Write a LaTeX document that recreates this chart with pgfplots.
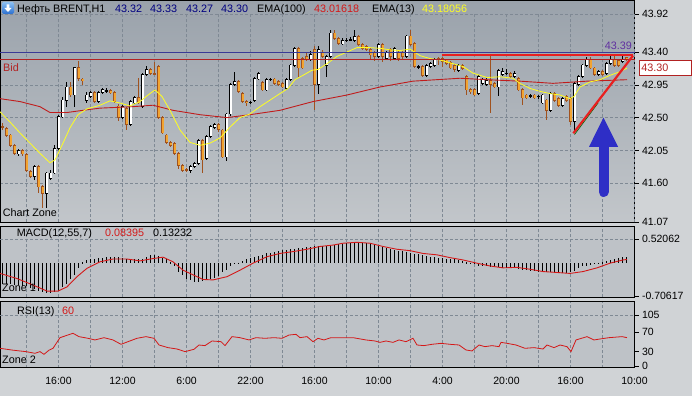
\documentclass[border=0pt]{standalone}
\usepackage{pgfplots}
\pgfplotsset{compat=1.18}
\usepackage{pgfplotstable}
\usepackage{fontspec}
\setmainfont{Liberation Sans}

\definecolor{outerbg}{HTML}{D0D3D6}
\definecolor{mtop}{HTML}{9AA2AB}
\definecolor{mbot}{HTML}{C2C6CA}
\definecolor{pbg}{HTML}{BEC2C7}
\definecolor{gridc}{HTML}{7F8994}
\definecolor{dnfill}{HTML}{F2A431}
\definecolor{dnline}{HTML}{A0521E}
\definecolor{ema13}{HTML}{FFFF20}
\definecolor{ema100}{HTML}{C01C1C}
\definecolor{blueline}{HTML}{3A3A96}
\definecolor{bidred}{HTML}{B22222}
\definecolor{trend}{HTML}{E82020}
\definecolor{arrowblue}{HTML}{2E2EC6}
\definecolor{hdrblue}{HTML}{000080}
\definecolor{lblpurple}{HTML}{6030A0}
\definecolor{valred}{HTML}{D41818}
\definecolor{icontop}{HTML}{8CC0F2}
\definecolor{iconbot}{HTML}{2A6FD0}

\newcommand\hdr{\fontsize{10.8}{13}\selectfont}

\pgfplotstableread{
i o h l c
4 42.00 42.07 41.98 42.05
8 41.69 41.85 41.64 41.83
11 41.46 41.76 41.26 41.74
12 41.66 41.78 41.64 41.74
13 41.74 42.13 41.72 42.08
14 42.08 42.53 42.06 42.51
15 42.51 42.78 42.49 42.74
16 42.74 42.99 42.65 42.92
18 42.81 43.20 42.65 43.19
21 42.74 42.85 42.70 42.81
22 42.79 42.87 42.77 42.84
24 42.72 42.86 42.70 42.84
25 42.84 42.90 42.82 42.88
26 42.86 42.90 42.84 42.87
30 42.50 42.67 42.48 42.65
32 42.41 42.74 42.38 42.72
33 42.70 42.80 42.68 42.77
35 42.65 43.11 42.63 43.09
36 43.09 43.21 43.07 43.16
47 41.78 41.85 41.74 41.83
48 41.83 41.89 41.81 41.87
49 41.87 42.21 41.85 42.19
51 41.94 42.26 41.92 42.24
52 42.24 42.40 42.22 42.38
53 42.36 42.42 42.34 42.40
56 41.96 42.57 41.90 42.55
57 42.55 42.98 42.52 42.95
58 42.95 43.12 42.93 43.00
62 42.71 42.73 42.69 42.71
63 42.74 43.06 42.72 43.04
64 43.03 43.13 43.01 43.11
66 42.88 43.04 42.86 43.02
67 43.02 43.05 43.00 43.03
71 42.90 43.04 42.88 43.02
72 43.02 43.24 43.00 43.22
73 43.22 43.47 43.20 43.45
77 43.29 43.42 43.27 43.36
79 42.95 43.48 42.82 43.43
81 43.21 43.36 43.06 43.34
82 43.34 43.70 43.32 43.66
85 43.51 43.59 43.49 43.56
86 43.56 43.59 43.54 43.56
87 43.57 43.60 43.55 43.57
88 43.56 43.70 43.54 43.61
94 43.34 43.52 43.32 43.50
96 43.31 43.42 43.29 43.40
98 43.31 43.47 43.29 43.45
101 43.34 43.64 43.32 43.62
104 43.20 43.22 43.17 43.20
106 43.08 43.23 43.06 43.21
107 43.20 43.26 43.18 43.24
108 43.22 43.32 43.20 43.30
114 43.15 43.23 43.13 43.21
119 42.83 43.08 42.81 43.06
120 42.97 43.04 42.95 43.02
121 42.95 43.04 42.93 43.01
124 42.92 43.17 42.80 43.15
125 43.09 43.18 43.07 43.13
126 43.11 43.17 43.09 43.11
128 43.06 43.14 43.04 43.11
132 42.80 42.82 42.77 42.80
134 42.79 42.81 42.76 42.79
135 42.70 42.83 42.68 42.81
137 42.60 42.85 42.58 42.83
140 42.67 42.78 42.65 42.76
143 42.45 42.99 42.29 42.97
144 42.95 43.08 42.93 43.06
145 43.06 43.24 43.04 43.22
146 43.22 43.33 43.20 43.29
149 43.09 43.15 43.07 43.13
151 43.11 43.26 43.09 43.24
152 43.24 43.34 43.22 43.29
155 43.27 43.34 43.25 43.30
}\upc

\pgfplotstableread{
i o h l c
0 42.38 42.42 42.33 42.37
1 42.35 42.37 42.24 42.26
2 42.26 42.28 42.10 42.12
3 42.12 42.14 41.99 42.01
5 42.05 42.07 41.98 42.00
6 41.99 42.01 41.76 41.78
7 41.76 41.78 41.67 41.69
9 41.83 41.85 41.46 41.55
10 41.55 41.57 41.26 41.46
17 42.92 42.99 42.78 42.81
19 43.19 43.27 43.00 43.04
20 43.03 43.05 42.95 43.01
23 42.84 42.86 42.70 42.72
27 42.87 42.89 42.82 42.84
28 42.84 42.86 42.70 42.72
29 42.66 42.68 42.45 42.50
31 42.62 42.64 42.33 42.41
34 42.77 43.04 42.68 42.70
37 43.16 43.18 43.09 43.11
38 43.11 43.26 43.08 43.10
39 43.20 43.22 42.48 42.50
40 42.50 42.52 42.27 42.29
41 42.26 42.28 42.14 42.16
42 42.16 42.18 42.10 42.12
43 42.14 42.16 41.99 42.01
44 42.01 42.03 41.80 41.84
45 41.84 41.86 41.76 41.78
46 41.79 41.81 41.75 41.78
50 42.19 42.21 41.74 41.92
54 42.40 42.42 42.30 42.34
55 42.33 42.35 41.94 41.96
59 43.00 43.02 42.84 42.86
60 42.83 42.85 42.70 42.72
61 42.72 42.74 42.66 42.70
65 42.98 43.00 42.86 42.88
68 43.03 43.05 42.95 42.97
69 42.99 43.01 42.93 42.95
70 42.97 42.99 42.90 42.92
74 43.45 43.47 43.06 43.18
75 43.31 43.33 43.16 43.18
76 43.34 43.40 43.28 43.30
78 43.43 43.48 42.60 42.95
80 43.40 43.43 43.32 43.34
83 43.66 43.70 43.57 43.59
84 43.59 43.61 43.50 43.52
89 43.61 43.63 43.48 43.50
90 43.50 43.52 43.43 43.45
91 43.47 43.49 43.41 43.43
92 43.43 43.45 43.30 43.36
93 43.40 43.42 43.27 43.34
95 43.50 43.52 43.26 43.34
97 43.43 43.46 43.28 43.34
99 43.40 43.42 43.27 43.31
100 43.40 43.42 43.30 43.34
102 43.62 43.70 43.48 43.50
103 43.52 43.54 43.18 43.20
105 43.20 43.22 43.06 43.08
109 43.31 43.33 43.22 43.29
110 43.31 43.33 43.20 43.27
111 43.29 43.31 43.22 43.24
112 43.26 43.28 43.16 43.18
113 43.21 43.23 43.12 43.16
115 43.21 43.23 43.15 43.17
116 43.06 43.08 42.81 42.88
117 42.88 42.90 42.82 42.86
118 42.88 42.90 42.79 42.81
122 43.01 43.34 42.56 42.95
123 42.97 42.99 42.90 42.92
127 43.11 43.13 43.04 43.06
129 43.04 43.06 42.86 42.88
130 42.88 42.90 42.67 42.77
131 42.81 42.83 42.75 42.77
133 42.81 42.83 42.75 42.77
136 42.74 42.76 42.47 42.60
138 42.83 42.85 42.72 42.74
139 42.76 42.78 42.65 42.67
141 42.79 42.81 42.72 42.74
142 42.76 42.78 42.40 42.45
147 43.29 43.33 43.16 43.18
148 43.18 43.20 43.07 43.09
150 43.13 43.15 43.07 43.09
153 43.29 43.34 43.20 43.22
154 43.28 43.31 43.20 43.22
156 43.32 43.33 43.27 43.30
}\dnc

\pgfplotstableread{
i m
0 -0.44
1 -0.44
2 -0.45
3 -0.46
4 -0.48
5 -0.49
6 -0.50
7 -0.53
8 -0.55
9 -0.59
10 -0.62
11 -0.65
12 -0.65
13 -0.62
14 -0.59
15 -0.52
16 -0.44
17 -0.35
18 -0.25
19 -0.11
20 0.02
21 0.06
22 0.08
23 0.10
24 0.11
25 0.12
26 0.13
27 0.13
28 0.13
29 0.13
30 0.12
31 0.10
32 0.09
33 0.08
34 0.09
35 0.10
36 0.13
37 0.17
38 0.18
39 0.15
40 0.12
41 0.08
42 0.03
43 -0.05
44 -0.18
45 -0.26
46 -0.33
47 -0.37
48 -0.40
49 -0.40
50 -0.39
51 -0.36
52 -0.33
53 -0.31
54 -0.27
55 -0.20
56 -0.14
57 -0.06
58 -0.01
59 0.01
60 0.04
61 0.08
62 0.11
63 0.14
64 0.16
65 0.18
66 0.21
67 0.23
68 0.24
69 0.26
70 0.28
71 0.29
72 0.30
73 0.31
74 0.33
75 0.33
76 0.34
77 0.35
78 0.36
79 0.36
80 0.37
81 0.38
82 0.39
83 0.39
84 0.41
85 0.42
86 0.43
87 0.44
88 0.44
89 0.44
90 0.44
91 0.44
92 0.44
93 0.42
94 0.38
95 0.35
96 0.33
97 0.31
98 0.29
99 0.27
100 0.26
101 0.24
102 0.22
103 0.20
104 0.19
105 0.17
106 0.15
107 0.14
108 0.13
109 0.12
110 0.11
111 0.10
112 0.09
113 0.08
114 0.06
115 0.05
116 0.03
117 0.01
118 -0.01
119 -0.05
120 -0.07
121 -0.07
122 -0.08
123 -0.09
124 -0.09
125 -0.10
126 -0.10
127 -0.11
128 -0.11
129 -0.13
130 -0.14
131 -0.15
132 -0.16
133 -0.17
134 -0.18
135 -0.19
136 -0.20
137 -0.20
138 -0.21
139 -0.21
140 -0.22
141 -0.21
142 -0.19
143 -0.16
144 -0.11
145 -0.06
146 -0.05
147 -0.03
148 -0.01
149 0.01
150 0.03
151 0.05
152 0.07
153 0.09
154 0.11
155 0.13
156 0.13
}\macd

\pgfplotsset{
  panel/.style={
    scale only axis, width=634.5pt, xmin=0, xmax=634.5,
    anchor=south west,
    axis line style={black, line width=0.8pt},
    tick align=outside, major tick length=4pt,
    ytick pos=right, yticklabel pos=right,
    tick style={black, line width=0.6pt},
    xtick style={draw=none},
    grid style={gridc, dash pattern=on 3pt off 2pt, line width=0.6pt},
    ticklabel style={font=\fontsize{10.5}{12}\selectfont},
    clip=false,
  },
  ebar/.style 2 args={draw=none, mark=none, forget plot,
    error bars/.cd, y dir=both, y explicit, error mark=none,
    error bar style={draw=#1, solid, line width=#2}},
}

\begin{document}
\begin{tikzpicture}
\path[use as bounding box, fill=outerbg] (0,0) rectangle (692pt,396pt);

% ---------------- main chart ----------------
\begin{axis}[panel, at={(0pt,173.5pt)}, height=222.5pt,
  ymin=41.0612, ymax=44.1133, xtick=\empty,
  ytick={41.07,41.60,42.05,42.50,42.95,43.40,43.92},
  yticklabels={41.07,41.60,42.05,42.50,42.95,43.40,43.92},
  ymajorgrids,
  axis background/.style={top color=mtop, bottom color=mbot}]
\pgfplotsinvokeforeach{26.5,58.5,...,634.5}{
  \draw[gridc, dash pattern=on 3pt off 2pt, line width=0.6pt] (axis cs:#1,41.0612) -- (axis cs:#1,43.92);
}
% candles: up
\addplot[ebar={black}{0.8pt}] table[x expr={2.7+4*\thisrow{i}}, y expr={(\thisrow{h}+\thisrow{l})/2}, y error expr={(\thisrow{h}-\thisrow{l})/2}] {\upc};
\addplot[ebar={black}{3.2pt}] table[x expr={2.7+4*\thisrow{i}}, y expr={(\thisrow{o}+\thisrow{c})/2}, y error expr={abs(\thisrow{c}-\thisrow{o})/2+0.006}] {\upc};
\addplot[ebar={white}{1.6pt}] table[x expr={2.7+4*\thisrow{i}}, y expr={(\thisrow{o}+\thisrow{c})/2}, y error expr={max(abs(\thisrow{c}-\thisrow{o})/2-0.005,0)}] {\upc};
% candles: down
\addplot[ebar={dnline}{0.8pt}] table[x expr={2.7+4*\thisrow{i}}, y expr={(\thisrow{h}+\thisrow{l})/2}, y error expr={(\thisrow{h}-\thisrow{l})/2}] {\dnc};
\addplot[ebar={dnline}{3.2pt}] table[x expr={2.7+4*\thisrow{i}}, y expr={(\thisrow{o}+\thisrow{c})/2}, y error expr={abs(\thisrow{c}-\thisrow{o})/2+0.006}] {\dnc};
\addplot[ebar={dnfill}{1.6pt}] table[x expr={2.7+4*\thisrow{i}}, y expr={(\thisrow{o}+\thisrow{c})/2}, y error expr={max(abs(\thisrow{c}-\thisrow{o})/2-0.005,0)}] {\dnc};
% EMA(100)
\addplot[ema100, line width=0.9pt] coordinates {(0,42.76) (20,42.72) (40,42.65) (50,42.57) (67,42.57) (83,42.60) (100,42.63) (133,42.65) (153,42.67) (173,42.60) (200,42.54) (227,42.50) (250,42.54) (280,42.60) (313,42.72) (347,42.81) (380,42.92) (413,43.00) (460,43.04) (487,43.02) (520,43.00) (553,42.97) (587,43.00) (627,43.02)};
% EMA(13)
\addplot[ema13, line width=0.8pt] coordinates {(0,42.58) (10,42.44) (20,42.29) (30,42.15) (40,42.01) (50,41.88) (55,41.92) (63,42.15) (70,42.36) (78,42.54) (87,42.62) (100,42.67) (110,42.73) (120,42.70) (130,42.66) (140,42.72) (148,42.81) (155,42.88) (162,42.79) (170,42.60) (180,42.33) (190,42.16) (200,42.12) (210,42.15) (220,42.22) (230,42.37) (240,42.50) (250,42.55) (260,42.65) (270,42.74) (280,42.83) (288,42.90) (295,43.02) (303,43.08) (312,43.15) (318,43.16) (327,43.24) (337,43.34) (347,43.40) (357,43.46) (370,43.46) (380,43.45) (390,43.43) (400,43.42) (410,43.44) (420,43.35) (430,43.31) (440,43.29) (453,43.24) (463,43.20) (473,43.11) (487,43.05) (500,43.06) (513,43.04) (520,42.97) (530,42.90) (540,42.86) (550,42.83) (560,42.81) (570,42.76) (574,42.79) (580,42.92) (590,42.99) (600,43.02) (610,43.08) (620,43.13) (627,43.18)};
% horizontal price lines
\addplot[blueline, line width=0.9pt] coordinates {(0,43.39) (634.5,43.39)};
\addplot[bidred, line width=0.8pt] coordinates {(0,43.30) (634.5,43.30)};
% trend lines
\addplot[trend, line width=2.2pt] coordinates {(441.7,43.363) (633,43.363)};
\addplot[green!40!black, line width=0.7pt] coordinates {(574.5,42.268) (598,42.70)};
\addplot[trend, line width=2.2pt] coordinates {(573.3,42.285) (633,43.35)};
% arrow
\draw[arrowblue, line width=10pt, line cap=round] (axis cs:603.5,41.48) -- (axis cs:603.5,42.12);
\fill[arrowblue] (axis cs:589,42.10) -- (axis cs:603.5,42.50) -- (axis cs:618,42.10) -- cycle;
\end{axis}

% ---------------- MACD ----------------
\begin{axis}[panel, at={(0pt,98.7pt)}, height=70.8pt,
  ymin=-0.734, ymax=0.790,
  xtick={26.5,58.5,...,634.5}, xticklabels={}, xmajorgrids,
  ytick={-0.70617}, yticklabels={-0.70617},
  extra y ticks={0.52062}, extra y tick labels={0.52062},
  extra y tick style={ymajorgrids=true},
  axis background/.style={fill=pbg}]
\addplot[ebar={black}{0.75pt}]
  table[x expr={2.7+4*\thisrow{i}}, y expr={\thisrow{m}/2}, y error expr={abs(\thisrow{m})/2}] {\macd};
\addplot[valred, line width=0.9pt] coordinates {(0,-0.22) (17,-0.33) (33,-0.47) (47,-0.60) (58,-0.60) (67,-0.51) (77,-0.29) (87,-0.11) (100,0.03) (113,0.09) (127,0.09) (140,0.05) (153,0.10) (163,0.13) (173,0.03) (183,-0.15) (193,-0.25) (203,-0.35) (213,-0.36) (227,-0.29) (240,-0.15) (253,0.00) (267,0.14) (280,0.21) (293,0.25) (307,0.30) (320,0.36) (333,0.39) (343,0.43) (357,0.45) (370,0.43) (383,0.36) (397,0.30) (410,0.27) (423,0.21) (437,0.18) (450,0.12) (463,0.07) (477,0.00) (490,-0.06) (503,-0.10) (517,-0.09) (530,-0.13) (543,-0.18) (557,-0.20) (570,-0.22) (583,-0.18) (597,-0.10) (610,0.00) (623,0.07) (627,0.08)};
\end{axis}

% ---------------- RSI ----------------
\begin{axis}[panel, at={(0pt,28.3pt)}, height=66pt,
  ymin=-2.87, ymax=132.2,
  xtick={26.5,58.5,...,634.5},
  xticklabels={,16:00,,12:00,,6:00,,22:00,,16:00,,10:00,,4:00,,20:00,,16:00,,10:00},
  xmajorgrids,
  xticklabel style={anchor=base, yshift=-13pt},
  ytick={0,30,70}, yticklabels={0,30,70},
  extra y ticks={105}, extra y tick labels={105},
  extra y tick style={ymajorgrids=true},
  axis background/.style={fill=pbg}]
\addplot[valred, line width=0.8pt] coordinates {(0,36.8) (13,33) (26,30) (35,26.6) (40,30) (44,24.5) (49,33) (53,36.8) (60,58.6) (66,62.7) (73,67.5) (79,60.7) (88,57.3) (95,53.9) (104,58.6) (113,53.9) (121,45) (128,50.4) (137,57.3) (146,60.7) (154,57.3) (159,43.6) (168,38.2) (177,35.4) (185,30) (194,34.8) (199,43.6) (205,42.3) (212,51.8) (221,50.4) (225,42.3) (232,60.7) (240,58.6) (249,53.9) (256,58.6) (265,57.3) (274,58.6) (282,57.3) (289,64) (296,65.4) (300,58.6) (307,60.7) (313,50.4) (318,57.3) (324,53.9) (331,58.6) (340,58.6) (353,58.6) (366,53.9) (375,51.8) (380,49) (386,51.8) (393,49) (399,53.9) (406,50.4) (413,57.3) (417,43.6) (424,42.3) (432,45) (441,47) (450,45) (459,43.6) (466,33.4) (472,31.4) (479,43.6) (485,40.2) (492,42.3) (499,40.2) (501,49) (507,47) (516,43.6) (525,36.8) (534,38.2) (543,35.4) (547,43.6) (554,38.2) (560,43.6) (567,40.2) (571,30) (576,53.9) (587,60.7) (594,53.9) (600,55.9) (609,58.6) (622,60.7) (627,58.6)};
\end{axis}

% ---------------- texts ----------------
\shade[top color=icontop, bottom color=iconbot, rounded corners=1.5pt] (2pt,382pt) rectangle (14pt,394pt);
\fill[white] (6.6pt,391.5pt) -- (9.4pt,391.5pt) -- (9.4pt,388pt) -- (11.6pt,388pt) -- (8pt,384pt) -- (4.4pt,388pt) -- (6.6pt,388pt) -- cycle;
\begin{scope}[every node/.style={anchor=base west, inner sep=0pt, font=\hdr}]
\node at (17pt,383.5pt) {Нефть BRENT,H1};
\node[text=hdrblue] at (115pt,383.5pt) {43.32};
\node[text=hdrblue] at (150pt,383.5pt) {43.33};
\node[text=hdrblue] at (186pt,383.5pt) {43.27};
\node[text=hdrblue] at (221pt,383.5pt) {43.30};
\node at (257pt,383.5pt) {EMA(100)};
\node[text=valred] at (314pt,383.5pt) {43.01618};
\node at (372pt,383.5pt) {EMA(13)};
\node[text=ema13] at (422pt,383.5pt) {43.18056};
\node[text=bidred] at (3pt,324.3pt) {Bid};
\node at (2.7pt,179.3pt) {Chart Zone};
\node at (16.7pt,159.3pt) {MACD(12,55,7)};
\node[text=valred] at (105pt,159.3pt) {0.08395};
\node at (153pt,159.3pt) {0.13232};
\node at (2pt,104pt) {Zone 1};
\node at (17pt,82pt) {RSI(13)};
\node[text=valred] at (62pt,82pt) {60};
\node at (2pt,32.7pt) {Zone 2};
\node[anchor=base east, text=lblpurple] at (632pt,346.7pt) {43.39};
\end{scope}
\node[anchor=west, draw=bidred, fill=white, text=bidred, line width=0.8pt, minimum height=15.5pt, text width=47pt, inner xsep=2.5pt, inner ysep=0pt, font=\hdr] at (638.5pt,328pt) {43.30};
\end{tikzpicture}
\end{document}
